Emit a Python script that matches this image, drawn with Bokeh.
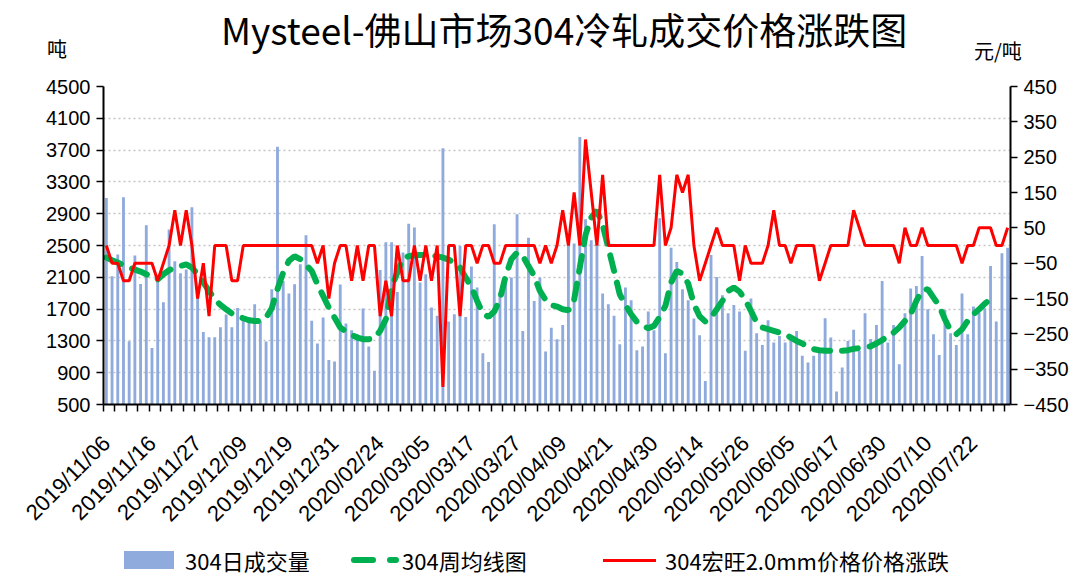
import math
from bokeh.plotting import figure
from bokeh.layouts import column
from bokeh.models import (Range1d, LinearAxis, FixedTicker, ColumnDataSource, Div)
from bokeh.embed import file_html
from bokeh.resources import INLINE

# ---------------- data ----------------
chart_title = "Mysteel-佛山市场304冷轧成交价格涨跌图"
left_unit = "吨"
right_unit = "元/吨"
series_names = ["304日成交量", "304周均线图", "304宏旺2.0mm价格价格涨跌"]
series_colors = ["#8FAADC", "#00B050", "#FF0000"]

label_dates = ["2019/11/06", "2019/11/16", "2019/11/27", "2019/12/09", "2019/12/19",
               "2019/12/31", "2020/02/24", "2020/03/05", "2020/03/17", "2020/03/27",
               "2020/04/09", "2020/04/21", "2020/04/30", "2020/05/14", "2020/05/26",
               "2020/06/05", "2020/06/17", "2020/06/30", "2020/07/10", "2020/07/22"]
label_every = 8

daily_volume = [3098, 2113, 2386, 3106, 1296, 2373, 2017, 2754, 1212, 2050,
                1786, 2700, 2302, 2151, 2197, 2980, 1850, 1413, 1346, 1346,
                1472, 1631, 1472, 1715, 1589, 1602, 1760, 1552, 1292, 1950,
                3743, 2054, 1895, 2013, 2264, 2629, 1552, 1267, 1594, 1061,
                1040, 2008, 1518, 1434, 1384, 1707, 1229, 923, 2193, 2541,
                2541, 1916, 2411, 2775, 2725, 2034, 2138, 1719, 1615, 3722,
                1543, 1636, 2494, 1602, 2235, 1971, 1146, 1036, 2767, 1912,
                2096, 2096, 2892, 1426, 2599, 1803, 2096, 1166, 1464, 1321,
                1501, 2524, 2524, 3865, 2830, 2566, 2515, 1895, 1761, 1615,
                1258, 1971, 1811, 1183, 1229, 1669, 1434, 2842, 1146, 2473,
                2293, 1950, 1811, 1581, 1372, 797, 2381, 2105, 1874, 1648,
                1753, 1669, 1175, 1832, 1397, 1250, 1560, 1279, 1363, 1279,
                1300, 1426, 1112, 1028, 1112, 1175, 1585, 1342, 663, 965,
                1300, 1439, 1175, 1648, 1325, 1501, 2054, 1279, 1501, 1007,
                1648, 1958, 1992, 2369, 1698, 1384, 1124, 1690, 1397, 1250,
                1895, 1384, 1732, 1657, 1711, 2243, 1543, 2402, 2473]

weekly_avg = [2348, 2314, 2285, 2256, 2222, 2197, 2172, 2138, 2105, 2075,
              2138, 2189, 2222, 2243, 2264, 2222, 2138, 2034, 1929, 1824,
              1753, 1698, 1644, 1615, 1585, 1560, 1550, 1552, 1594, 1711,
              1950, 2159, 2306, 2365, 2327, 2256, 2180, 2013, 1866, 1719,
              1594, 1468, 1418, 1376, 1342, 1321, 1321, 1334, 1426, 1573,
              1971, 2159, 2340, 2365, 2377, 2381, 2381, 2377, 2365, 2348,
              2323, 2281, 2222, 2096, 1979, 1803, 1644, 1602, 1669, 1824,
              2117, 2327, 2411, 2369, 2243, 2117, 1929, 1816, 1750, 1732,
              1698, 1686, 1816, 2222, 2633, 2851, 2943, 2759, 2473, 2180,
              1887, 1753, 1635, 1539, 1489, 1460, 1489, 1602, 1740, 2034,
              2180, 2147, 2021, 1761, 1610, 1543, 1594, 1698, 1803, 1929,
              1971, 1920, 1816, 1677, 1531, 1468, 1447, 1426, 1405, 1384,
              1342, 1300, 1267, 1225, 1196, 1183, 1175, 1175, 1175, 1175,
              1183, 1200, 1208, 1217, 1233, 1267, 1309, 1363, 1405, 1468,
              1552, 1636, 1803, 1937, 1950, 1845, 1740, 1573, 1426, 1384,
              1447, 1552, 1636, 1698, 1770, 1824, 1874]

price_change = [0, -50, -50, -100, -100, -50, -50, -50, -50, -100,
                -50, 0, 100, 0, 100, 0, -150, -50, -200, 0,
                0, 0, -100, -100, 0, 0, 0, 0, 0, 0,
                0, 0, 0, 0, 0, 0, 0, -50, 0, -150,
                -50, 0, 0, -100, 0, -100, 0, 0, -200, -100,
                -200, 0, -100, -100, 0, -100, 0, -100, 0, -400,
                0, 0, -200, 0, 0, -50, 0, 0, -50, -50,
                0, 0, 0, 0, 0, 0, -50, 0, -50, 0,
                100, 0, 150, 0, 300, 150, 0, 200, 0, 0,
                0, 0, 0, 0, 0, 0, 0, 200, 0, 50,
                200, 150, 200, 0, -100, -50, 0, 50, 0, 0,
                0, -100, 0, -50, -50, -50, 0, 100, 0, 0,
                -50, 0, 0, 0, 0, -100, -50, 0, 0, 0,
                0, 100, 50, 0, 0, 0, 0, 0, 0, -50,
                50, 0, 0, 50, 0, 0, 0, 0, 0, 0,
                -50, 0, 0, 50, 50, 50, 0, 0, 50]

left_ticks = list(range(500, 4501, 400))
right_ticks = list(range(-450, 451, 100))

# ---------------- header (title, units and legend) ----------------
FONT = "Noto Sans CJK SC"
TICKFONT = "Liberation Sans"


def span(left, top, text, size):
    return (f'<span style="position:absolute;left:{left}px;top:{top}px;'
            f'font-family:\'{FONT}\';font-size:{size}px;line-height:1;'
            f'white-space:nowrap;color:#000;z-index:5;">{text}</span>')


def box(left, top, w, h, color, radius=0):
    return (f'<span style="position:absolute;left:{left}px;top:{top}px;width:{w}px;'
            f'height:{h}px;background:{color};border-radius:{radius}px;z-index:5;"></span>')


header_html = (
    '<div style="position:relative;width:1071px;height:74px;margin:0;padding:0;'
    'overflow:visible;">'
    + span(221, 11, chart_title, 37)
    + span(47, 39, left_unit, 20)
    + span(974, 41, right_unit, 20)
    # legend row (below the date labels)
    + box(124, 551, 50, 18, series_colors[0])
    + span(185, 549, series_names[0], 22)
    + box(351, 557, 25, 6, series_colors[1], 3)
    + box(387, 557, 12, 6, series_colors[1], 3)
    + span(402, 549, series_names[1], 22)
    + box(603, 559, 53, 3, series_colors[2])
    + span(665, 549, series_names[2], 22)
    + '</div>'
)
header = Div(text=header_html, width=1071, height=74,
             styles={"margin": "0", "padding": "0", "overflow": "visible"})

# ---------------- figure ----------------
N = len(daily_volume)

fig = figure(frame_width=907, frame_height=318, output_backend="svg",
             toolbar_location=None, title=None,
             x_range=Range1d(-0.5, N - 0.5), y_range=Range1d(500, 4500),
             min_border_left=103, min_border_right=68, min_border_top=12,
             min_border_bottom=0)
fig.outline_line_color = None
fig.background_fill_color = "white"
fig.border_fill_alpha = 0
fig.extra_y_ranges = {"chg": Range1d(-450, 450)}

vol_src = ColumnDataSource(dict(x=list(range(N)), v=daily_volume))
wk_src = ColumnDataSource(dict(x=list(range(len(weekly_avg))), v=weekly_avg))
chg_src = ColumnDataSource(dict(x=list(range(len(price_change))), v=price_change))

bars = fig.vbar(x="x", top="v", bottom=500, width=0.5, source=vol_src,
                fill_color=series_colors[0], line_color=None)
wk = fig.line(x="x", y="v", source=wk_src, line_color=series_colors[1], line_width=6,
              line_dash="16 12", line_cap="round")
rl = fig.line(x="x", y="v", source=chg_src, y_range_name="chg",
              line_color=series_colors[2], line_width=3)

# axes
xa = fig.xaxis[0]
xa.ticker = FixedTicker(ticks=[i * label_every for i in range(len(label_dates))],
                        minor_ticks=[k - 0.5 for k in range(0, N + 1, 2)])
xa.major_label_overrides = {i * label_every: d for i, d in enumerate(label_dates)}
xa.major_label_orientation = math.pi / 4
xa.major_label_text_font = TICKFONT
xa.major_label_text_font_size = "22px"
xa.major_label_text_color = "black"
xa.major_tick_out = 0
xa.major_tick_in = 0
xa.minor_tick_out = 7
xa.minor_tick_in = 0
xa.minor_tick_line_color = "black"
xa.minor_tick_line_width = 1.5
xa.axis_line_color = "black"
xa.axis_line_width = 2
xa.major_label_standoff = 28

ya = fig.yaxis[0]
ya.ticker = FixedTicker(ticks=left_ticks)
ya.major_label_text_font = TICKFONT
ya.major_label_text_font_size = "20px"
ya.major_label_text_color = "black"
ya.major_tick_out = 7
ya.major_tick_in = 0
ya.minor_tick_out = 0
ya.minor_tick_in = 0
ya.axis_line_color = "black"
ya.axis_line_width = 2
ya.major_tick_line_width = 1.5
ya.major_label_standoff = 6

ra = LinearAxis(y_range_name="chg", ticker=FixedTicker(ticks=right_ticks))
ra.major_label_text_font = TICKFONT
ra.major_label_text_font_size = "20px"
ra.major_label_text_color = "black"
ra.major_tick_out = 7
ra.major_tick_in = 0
ra.minor_tick_out = 0
ra.minor_tick_in = 0
ra.axis_line_color = "black"
ra.axis_line_width = 2
ra.major_tick_line_width = 1.5
ra.major_label_standoff = 6
fig.add_layout(ra, "right")

fig.xgrid.visible = False
fig.ygrid.grid_line_color = "#C4C4C4"
fig.ygrid.grid_line_dash = "2 3"
fig.ygrid.grid_line_width = 1.5

p = column(header, fig, spacing=0)
open("out.html", "w").write(file_html(p, INLINE))
